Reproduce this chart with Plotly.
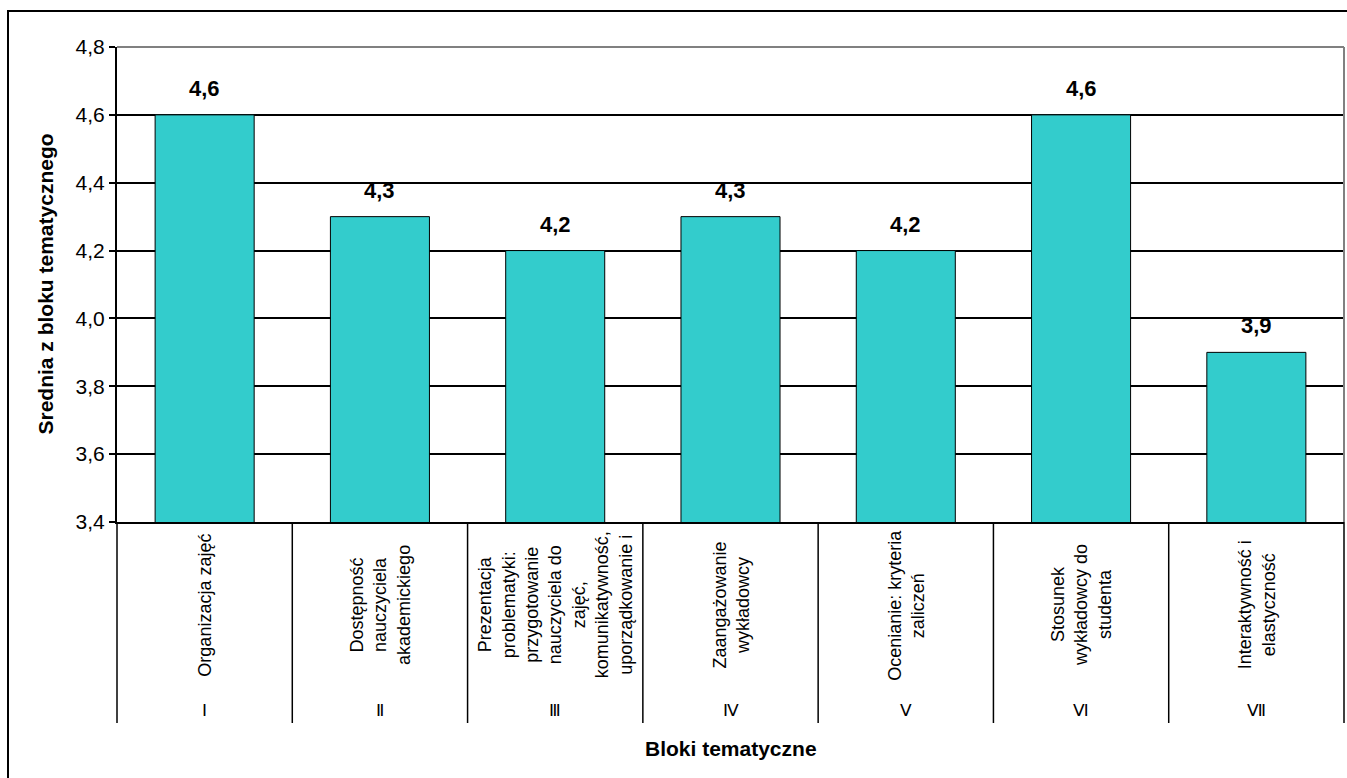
import plotly.graph_objects as go

# ---- data ----
roman = ["Ⅰ", "Ⅱ", "Ⅲ", "Ⅳ", "Ⅴ", "Ⅵ", "Ⅶ"]
block_names = [
    "Organizacja zajęć",
    "Dostępność<br>nauczyciela<br>akademickiego",
    "Prezentacja<br>problematyki:<br>przygotowanie<br>nauczyciela do<br>zajęć,<br>komunikatywność,<br>uporządkowanie i",
    "Zaangażowanie<br>wykładowcy",
    "Ocenianie: kryteria<br>zaliczeń",
    "Stosunek<br>wykładowcy do<br>studenta",
    "Interaktywność i<br>elastyczność",
]
means = [4.6, 4.3, 4.2, 4.3, 4.2, 4.6, 3.9]
y_ticks = [3.4, 3.6, 3.8, 4.0, 4.2, 4.4, 4.6, 4.8]

FONT = "Arial, 'Liberation Sans', sans-serif"
W, H = 1347, 778
L, R, T, B = 117, 3, 47, 256
PW, PH = W - L - R, H - T - B

def px(x):
    return (x - L) / PW

def py(y):
    return (H - B - y) / PH

n = len(roman)
xs = list(range(n))

fig = go.Figure()
fig.add_trace(go.Bar(
    x=xs, y=means, base=0,
    marker=dict(color="#33CCCC", line=dict(color="black", width=1)),
    width=0.565, hoverinfo="skip",
))

shapes = []
# category dividers
for i in range(n + 1):
    shapes.append(dict(type="line", xref="paper", yref="paper",
                       x0=i / n, x1=i / n, y0=0, y1=py(723),
                       line=dict(color="black", width=1.5)))
# plot-area top/right border (gray)
shapes.append(dict(type="line", xref="paper", yref="paper", x0=0, x1=1, y0=1, y1=1,
                   line=dict(color="#808080", width=2), layer="above"))
shapes.append(dict(type="line", xref="paper", yref="paper", x0=1, x1=1, y0=0, y1=1,
                   line=dict(color="#808080", width=2), layer="above"))
# outer chart frame
shapes.append(dict(type="rect", xref="paper", yref="paper",
                   x0=px(8), x1=px(1360), y0=py(790), y1=py(11),
                   line=dict(color="black", width=2), fillcolor="rgba(0,0,0,0)"))

ann = []
for i in range(n):
    ann.append(dict(x=xs[i], y=means[i], xref="x", yref="y",
                    text="<b>%s</b>" % f"{means[i]:.1f}".replace(".", ","),
                    showarrow=False, yanchor="bottom", yshift=12,
                    font=dict(family=FONT, size=22, color="black")))
    ann.append(dict(x=xs[i], y=py(605), xref="x", yref="paper",
                    text=block_names[i], textangle=-90, showarrow=False,
                    xanchor="center", yanchor="middle", align="center",
                    font=dict(family=FONT, size=18, color="black")))
    ann.append(dict(x=xs[i], y=py(710), xref="x", yref="paper",
                    text=roman[i], showarrow=False,
                    xanchor="center", yanchor="middle",
                    font=dict(family=FONT, size=17, color="black")))

ann.append(dict(x=px(45), y=0.5, xref="paper", yref="paper",
                text="<b>Srednia z bloku tematycznego</b>", textangle=-90,
                showarrow=False, xanchor="center", yanchor="middle",
                font=dict(family=FONT, size=21, color="black")))
ann.append(dict(x=0.5, y=py(748), xref="paper", yref="paper",
                text="<b>Bloki tematyczne</b>", showarrow=False,
                xanchor="center", yanchor="middle",
                font=dict(family=FONT, size=21, color="black")))

fig.update_layout(
    width=W, height=H,
    margin=dict(l=L, r=R, t=T, b=B, pad=0),
    paper_bgcolor="white", plot_bgcolor="white",
    separators=", ",
    showlegend=False,
    bargap=0.435,
    xaxis=dict(range=[-0.5, n - 0.5], showticklabels=False, ticks="",
               showgrid=False, zeroline=False, showline=True,
               linecolor="black", linewidth=2, fixedrange=True),
    yaxis=dict(range=[y_ticks[0], y_ticks[-1]], tickvals=y_ticks,
               tickformat=".1f", ticks="outside", ticklen=6, tickcolor="black",
               tickwidth=1.5, showgrid=True, gridcolor="black", gridwidth=1.5,
               zeroline=False, showline=True, linecolor="black", linewidth=2,
               tickfont=dict(family=FONT, size=21, color="black"),
               fixedrange=True),
    shapes=shapes,
    annotations=ann,
)

fig.write_html("out.html", config={"displayModeBar": False},
               post_script="document.body.style.margin='0';document.body.style.overflow='hidden';")
